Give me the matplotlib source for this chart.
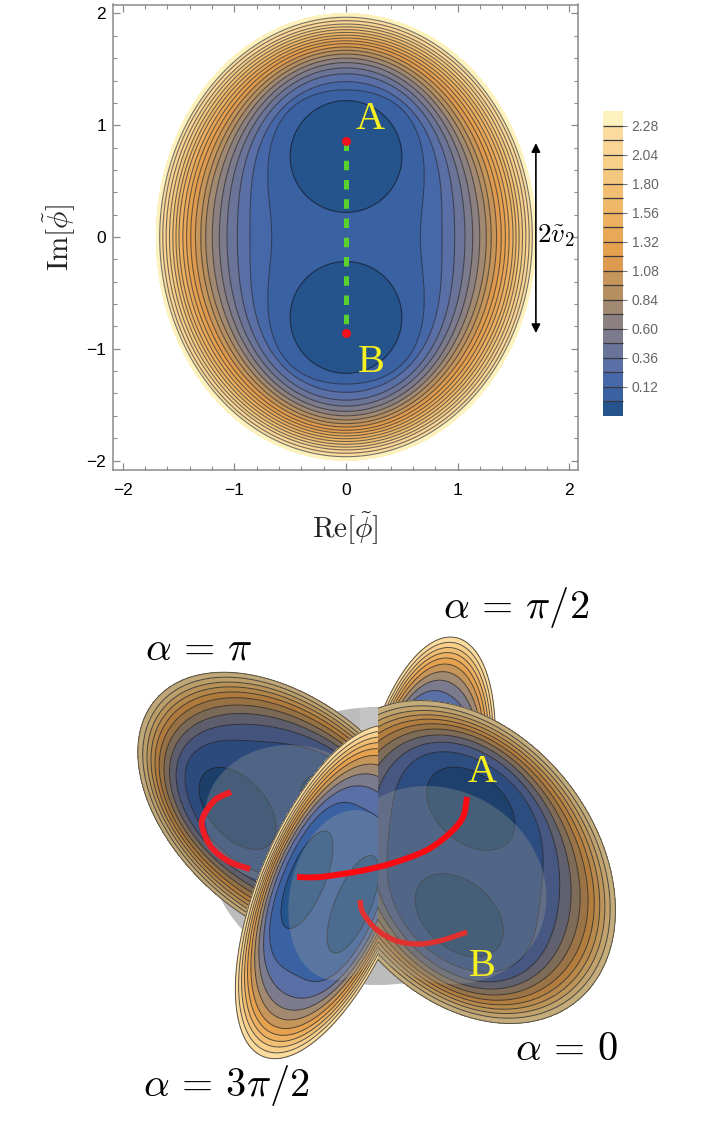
import numpy as np
import matplotlib
matplotlib.use("Agg")
import matplotlib.pyplot as plt
from matplotlib.cm import ScalarMappable
from matplotlib.colors import BoundaryNorm, ListedColormap, to_rgb
from matplotlib.patches import Circle, Ellipse, PathPatch, Polygon, Rectangle
from matplotlib.path import Path

plt.rcParams['mathtext.fontset'] = 'cm'
plt.rcParams['font.family'] = ['Liberation Sans', 'DejaVu Sans']

# contour levels and where each one crosses the rays at 0, 45 and 90 degrees
levels = [0.12, 0.24, 0.36, 0.48, 0.60, 0.72, 0.84, 0.96, 1.08, 1.20,
          1.32, 1.44, 1.56, 1.68, 1.80, 1.92, 2.04, 2.16, 2.28, 2.40]
radiusRe = [0.665, 0.86, 0.973, 1.065, 1.134, 1.197, 1.256, 1.30, 1.348, 1.39,
            1.427, 1.46, 1.495, 1.522, 1.55, 1.58, 1.61, 1.64, 1.668, 1.70]
radiusDiag = [0.98, 1.106, 1.19, 1.255, 1.31, 1.36, 1.405, 1.447, 1.488, 1.526,
              1.561, 1.593, 1.625, 1.653, 1.682, 1.711, 1.738, 1.769, 1.795, 1.832]
radiusIm = [1.316, 1.39, 1.46, 1.513, 1.56, 1.60, 1.637, 1.67, 1.70, 1.73,
            1.755, 1.78, 1.805, 1.83, 1.855, 1.88, 1.905, 1.935, 1.966, 2.0]

wellCenter = 0.72
wellRadius = 0.5
pointA = 0.862
pointB = -0.862

bandColors = ['#25538b', '#3a62a3', '#4668a9', '#5a6fa5', '#6a7499', '#7b7b8d',
              '#8c8080', '#a28a72', '#b68f60', '#c6955a', '#de9a4e', '#e6a14e',
              '#e9a858', '#ecb060', '#efb869', '#f2bf72', '#f5c87f', '#f8d08a',
              '#fad596', '#fcdc9e', '#fdf1bd']
colorbarTicks = [0.12, 0.36, 0.60, 0.84, 1.08, 1.32, 1.56, 1.80, 2.04, 2.28]

# red curves of the lower panel, in pixels of the picture
curveAx = [467, 463, 450, 427, 393, 360, 320, 297]
curveAy = [797, 817, 833, 850, 863, 871, 877, 877]
curveLeftx = [231, 215, 203, 203, 212, 230, 250]
curveLefty = [792, 800, 817, 830, 848, 862, 869]
curveBx = [360, 363, 377, 397, 420, 443, 467]
curveBy = [900, 913, 930, 941, 944, 940, 932]


def fieldGrid():
    theta = np.linspace(0, 2 * np.pi, 721)
    rows = [np.zeros_like(theta)]
    for a, d, b in zip(radiusRe, radiusDiag, radiusIm):
        q0, q1, q2 = 1 / a ** 2, 1 / d ** 2, 1 / b ** 2
        c0 = (q0 + 2 * q1 + q2) / 4
        c2 = (q0 - q2) / 2
        c4 = (q0 - 2 * q1 + q2) / 4
        rows.append(1 / np.sqrt(c0 + c2 * np.cos(2 * theta) + c4 * np.cos(4 * theta)))
    r = np.array(rows)
    x = r * np.cos(theta)
    y = r * np.sin(theta)
    z = np.repeat(np.array([0.06] + levels)[:, None], len(theta), axis=1)
    return x, y, z


gridX, gridY, gridZ = fieldGrid()

fig = plt.figure(figsize=(7.06, 11.28), dpi=100)


def pxAxes(left, top, right, bottom):
    return fig.add_axes([left / 706, 1 - bottom / 1128, (right - left) / 706, (bottom - top) / 1128])


# lower panel first, the whole figure in pixels
low = fig.add_axes([0, 0, 1, 1])
low.set_xlim(0, 706)
low.set_ylim(1128, 0)
low.axis('off')


def shade(color, factor):
    return tuple(c * factor for c in to_rgb(color))


def petal(center, u, v, keep, factor, z):
    px = center[0] + u[0] * gridX + v[0] * gridY
    py = center[1] + u[1] * gridX + v[1] * gridY
    clip = Rectangle((keep[0], 560), keep[1] - keep[0], 560, transform=low.transData)
    lev = [0.0] + levels[1::2]
    cols = [shade(bandColors[i], factor) for i in range(1, 21, 2)]
    cf = low.contourf(px, py, gridZ, levels=lev, colors=cols, zorder=z)
    cf.set_clip_path(clip)
    cl = low.contour(px, py, gridZ, levels=lev[1:-1], colors='#20242c', linewidths=0.7, alpha=0.75, zorder=z)
    cl.set_clip_path(clip)
    outline = low.contour(px, py, gridZ, levels=[2.399], colors='#55524a', linewidths=0.7, zorder=z)
    outline.set_clip_path(clip)
    t = np.linspace(0, 2 * np.pi, 100)
    for sign in (1, -1):
        s1 = wellRadius * np.cos(t)
        t1 = sign * wellCenter + wellRadius * np.sin(t)
        w = Polygon(np.c_[center[0] + u[0] * s1 + v[0] * t1, center[1] + u[1] * s1 + v[1] * t1],
                    fc=shade(bandColors[0], factor), ec='#20242c', lw=0.5, zorder=z + 0.1)
        low.add_patch(w)
        w.set_clip_path(clip)
    return clip


def redCurve(xs, ys, color, width, z):
    # smooth path through the read points
    pts = np.c_[xs, ys].astype(float)
    verts = [pts[0]]
    codes = [Path.MOVETO]
    for i in range(len(pts) - 1):
        p0 = pts[max(i - 1, 0)]
        p1 = pts[i]
        p2 = pts[i + 1]
        p3 = pts[min(i + 2, len(pts) - 1)]
        verts += [p1 + (p2 - p0) / 6, p2 - (p3 - p1) / 6, p2]
        codes += [Path.CURVE4, Path.CURVE4, Path.CURVE4]
    low.add_patch(PathPatch(Path(verts, codes), fc='none', ec=color, lw=width, capstyle='butt', zorder=z))


petal((426, 787), (-24, 85), (-28, -20), (379, 520), 1.0, 1)
petal((288, 812), (32, 82), (-70, -5), (120, 378), 0.76, 2)

# grey body behind the front petals
low.add_patch(Ellipse((378, 846), 340, 278, fc='#bcbcbc', ec='none', zorder=0.5))
low.add_patch(Ellipse((290, 815), 170, 140, fc='#a5a59a', ec='none', alpha=0.3, zorder=2.6))
low.add_patch(Rectangle((360, 708), 18, 22, fc='#c4c4c4', ec='none', zorder=2.6))

clip0 = petal((465, 862), (88, 38), (8, -74), (378, 640), 0.78, 3)
ov = Ellipse((440, 885), 220, 190, angle=30, fc='#a5a59a', ec='none', alpha=0.3, zorder=3.5)
low.add_patch(ov)
ov.set_clip_path(clip0)

clip3 = petal((330, 892), (-41, 96), (-32, -17), (200, 378), 1.0, 4)
ov = Ellipse((345, 895), 110, 172, angle=12, fc='#a5a59a', ec='none', alpha=0.3, zorder=4.5)
low.add_patch(ov)
ov.set_clip_path(clip3)

redCurve(curveLeftx, curveLefty, '#ee1c24', 4.3, 3.8)
redCurve(curveAx, curveAy, '#fb0a12', 4.3, 6)
redCurve(curveBx, curveBy, '#e0302f', 3.8, 6)

low.text(516, 607, r'$\alpha\,=\,\pi/2$', fontsize=29, ha='center', va='center', zorder=7)
low.text(199, 648, r'$\alpha\,=\,\pi$', fontsize=29, ha='center', va='center', zorder=7)
low.text(567, 1049, r'$\alpha\,=\,0$', fontsize=29, ha='center', va='center', zorder=7)
low.text(226, 1086, r'$\alpha\,=\,3\pi/2$', fontsize=29, ha='center', va='center', zorder=7)
low.text(482, 773, 'A', color='#f5f020', fontsize=29, family='Liberation Serif', ha='center', va='center', zorder=7)
low.text(482, 966, 'B', color='#f5f020', fontsize=29, family='Liberation Serif', ha='center', va='center', zorder=7)

# upper panel
ax = pxAxes(113, 4.5, 578, 470)
ax.set_facecolor('none')
ax.set_xlim(-2.086, 2.077)
ax.set_ylim(-2.085, 2.08)
ax.contourf(gridX, gridY, gridZ, levels=[0.0] + levels, colors=bandColors[1:])
ax.contour(gridX, gridY, gridZ, levels=levels[:-1], colors='#20242c', linewidths=0.8, alpha=0.62)
for sign in (1, -1):
    ax.add_patch(Circle((0, sign * wellCenter), wellRadius, fc=bandColors[0], ec='#1c2c48', lw=0.8))
ax.plot([0, 0], [pointA, pointB], color='#5ad22e', lw=3.6, linestyle=(0, (1.9, 1.95)), dash_capstyle='butt')
ax.plot([0, 0], [pointA, pointB], 'o', color='#f5101c', ms=6.5, mew=0, zorder=5)
ax.text(0.22, 1.05, 'A', color='#f5f020', fontsize=29, family='Liberation Serif', ha='center', va='center', zorder=6)
ax.text(0.23, -1.12, 'B', color='#f5f020', fontsize=29, family='Liberation Serif', ha='center', va='center', zorder=6)
ax.annotate('', xy=(1.70, -0.86), xytext=(1.70, 0.84),
            arrowprops=dict(arrowstyle='<|-|>', color='k', lw=1.2, mutation_scale=13, shrinkA=0, shrinkB=0))
ax.text(1.71, 0.01, r'$2\tilde{v}_2$', fontsize=19.5, ha='left', va='center')

ax.set_xticks([-2, -1, 0, 1, 2])
ax.set_yticks([-2, -1, 0, 1, 2])
ax.set_xticks(np.arange(-20, 21, 2) / 10, minor=True)
ax.set_yticks(np.arange(-20, 21, 2) / 10, minor=True)
ax.tick_params(which='major', direction='in', length=5, width=0.9, color='#8a8a8a', top=True, right=True,
               labelsize=12.5)
ax.tick_params(which='minor', direction='in', length=3, width=0.8, color='#8a8a8a', top=True, right=True)
ax.tick_params(axis='x', which='major', pad=9)
ax.tick_params(axis='y', which='major', pad=5)
ax.set_xticklabels(['\u22122', '\u22121', '0', '1', '2'])
ax.set_yticklabels(['\u22122', '\u22121', '0', '1', '2'])
for sp in ax.spines.values():
    sp.set_color('#8a8a8a')
    sp.set_linewidth(1.1)
ax.set_xlabel(r'$\mathrm{Re}[\tilde{\phi}]$', fontsize=21, labelpad=9, color='#222222')
ax.set_ylabel(r'$\mathrm{Im}[\tilde{\phi}]$', fontsize=21, labelpad=6, color='#222222')

# colour bar
cax = pxAxes(603.3, 111.5, 623.3, 415.5)
bounds = [-0.12, 0.0] + levels
sm = ScalarMappable(norm=BoundaryNorm(bounds, len(bandColors)), cmap=ListedColormap(bandColors))
cb = fig.colorbar(sm, cax=cax, ticks=colorbarTicks, drawedges=True, format='%.2f', spacing='uniform')
cb.outline.set_visible(False)
cb.dividers.set_color('#3a3a40')
cb.dividers.set_linewidth(0.9)
cax.tick_params(length=3, width=0.8, color='#777777', labelsize=10, labelcolor='#666666', pad=3)
cax.minorticks_off()

fig.savefig('out.png', dpi=100)
